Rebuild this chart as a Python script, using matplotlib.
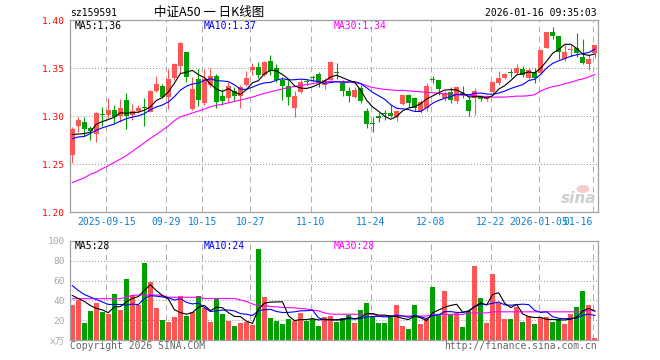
"""中证A50 日K线图 — candlestick + MA5/10/30, volume panel below."""
import numpy as np
import matplotlib
matplotlib.use("Agg")
import matplotlib.pyplot as plt
from matplotlib.patches import Ellipse

plt.rcParams["font.family"] = ["DejaVu Sans Mono", "Noto Sans CJK SC"]
plt.rcParams["lines.scale_dashes"] = False

OPEN = [1.260, 1.290, 1.2938, 1.288, 1.282, 1.302, 1.301, 1.3066, 1.300, 1.317,
        1.301, 1.306, 1.310, 1.305, 1.326, 1.332, 1.3205, 1.340, 1.352, 1.3667,
        1.308, 1.339, 1.3135, 1.333, 1.342, 1.321, 1.319, 1.326, 1.3215, 1.333,
        1.3486, 1.351, 1.3434, 1.358, 1.350, 1.338, 1.3316, 1.309, 1.3257, 1.337,
        1.341, 1.344, 1.3326, 1.338, 1.3465, 1.3344, 1.3267, 1.3198, 1.329, 1.306,
        1.2927, 1.2997, 1.3025, 1.3038, 1.299, 1.3128, 1.322, 1.319, 1.306, 1.3083,
        1.3385, 1.338, 1.319, 1.325, 1.3156, 1.3243, 1.3167, 1.319, 1.321, 1.318,
        1.325, 1.3347, 1.3403, 1.3455, 1.3448, 1.349, 1.3403, 1.3458, 1.3455, 1.3715,
        1.3878, 1.3837, 1.3594, 1.3688, 1.3708, 1.3622, 1.3542, 1.3663]
HIGH = [1.289, 1.299, 1.299, 1.290, 1.305, 1.310, 1.319, 1.312, 1.318, 1.324,
        1.313, 1.312, 1.319, 1.327, 1.3417, 1.334, 1.349, 1.356, 1.377, 1.367,
        1.3406, 1.3493, 1.349, 1.350, 1.344, 1.328, 1.3354, 1.331, 1.333, 1.347,
        1.356, 1.357, 1.358, 1.364, 1.354, 1.341, 1.338, 1.3264, 1.338, 1.339,
        1.343, 1.3465, 1.3396, 1.3576, 1.356, 1.338, 1.331, 1.331, 1.3326, 1.309,
        1.299, 1.303, 1.3066, 1.312, 1.3066, 1.322, 1.323, 1.320, 1.317, 1.3344,
        1.3424, 1.338, 1.326, 1.330, 1.330, 1.332, 1.321, 1.3295, 1.3215, 1.3226,
        1.337, 1.347, 1.345, 1.349, 1.355, 1.3524, 1.3507, 1.3507, 1.3698, 1.3882,
        1.3927, 1.3837, 1.3743, 1.3743, 1.3872, 1.381, 1.3638, 1.3743]
LOW = [1.251, 1.284, 1.279, 1.275, 1.273, 1.290, 1.298, 1.293, 1.294, 1.287,
       1.296, 1.303, 1.290, 1.304, 1.325, 1.319, 1.3076, 1.338, 1.345, 1.3354,
       1.307, 1.311, 1.312, 1.331, 1.309, 1.312, 1.315, 1.316, 1.309, 1.332,
       1.3434, 1.340, 1.342, 1.3434, 1.336, 1.317, 1.312, 1.2997, 1.324, 1.3326,
       1.336, 1.330, 1.328, 1.336, 1.3385, 1.321, 1.315, 1.319, 1.3135, 1.2875,
       1.284, 1.294, 1.296, 1.299, 1.2955, 1.3118, 1.3094, 1.306, 1.303, 1.306,
       1.3347, 1.3226, 1.3163, 1.314, 1.314, 1.319, 1.300, 1.3017, 1.316, 1.3163,
       1.324, 1.333, 1.3385, 1.3413, 1.3438, 1.3413, 1.3385, 1.3344, 1.344, 1.371,
       1.381, 1.3594, 1.358, 1.3615, 1.362, 1.3545, 1.348, 1.3604]
CLOSE = [1.287, 1.2965, 1.2868, 1.285, 1.303, 1.301, 1.307, 1.299, 1.3087, 1.300,
         1.305, 1.309, 1.309, 1.326, 1.3337, 1.3197, 1.339, 1.354, 1.376, 1.3413,
         1.3285, 1.317, 1.339, 1.342, 1.315, 1.316, 1.332, 1.321, 1.330, 1.340,
         1.3514, 1.3434, 1.357, 1.347, 1.338, 1.3316, 1.3205, 1.3215, 1.336, 1.3355,
         1.340, 1.3344, 1.3378, 1.357, 1.345, 1.3267, 1.3215, 1.3274, 1.3163, 1.292,
         1.2917, 1.2987, 1.302, 1.300, 1.306, 1.322, 1.3135, 1.3083, 1.3153, 1.3316,
         1.3375, 1.328, 1.3243, 1.3174, 1.330, 1.3226, 1.306, 1.326, 1.3184, 1.3215,
         1.3358, 1.340, 1.3438, 1.345, 1.3507, 1.343, 1.3483, 1.3396, 1.369, 1.388,
         1.384, 1.3667, 1.3667, 1.370, 1.3656, 1.3552, 1.3594, 1.3743]

MA5 = [1.2810, 1.2815, 1.2820, 1.2835, 1.2917, 1.2945, 1.2966, 1.2990, 1.3037, 1.3031,
       1.3039, 1.3043, 1.3063, 1.3098, 1.3165, 1.3195, 1.3255, 1.3345, 1.3445, 1.3460,
       1.3478, 1.3434, 1.3404, 1.3336, 1.3283, 1.3258, 1.3288, 1.3252, 1.3228, 1.3278,
       1.3349, 1.3372, 1.3444, 1.3478, 1.3474, 1.3434, 1.3388, 1.3317, 1.3295, 1.3290,
       1.3307, 1.3335, 1.3367, 1.3409, 1.3428, 1.3402, 1.3376, 1.3355, 1.3274, 1.3168,
       1.3098, 1.3052, 1.3001, 1.2969, 1.2997, 1.3057, 1.3087, 1.3100, 1.3130, 1.3181,
       1.3212, 1.3245, 1.3273, 1.3278, 1.3274, 1.3245, 1.3201, 1.3204, 1.3206, 1.3189,
       1.3215, 1.3283, 1.3319, 1.3372, 1.3431, 1.3445, 1.3462, 1.3453, 1.3501, 1.3576,
       1.3658, 1.3695, 1.3749, 1.3751, 1.3706, 1.3648, 1.3634, 1.3649]
MA10 = [1.2766, 1.2785, 1.2790, 1.2820, 1.2855, 1.2880, 1.2900, 1.2920, 1.2950, 1.2974,
        1.2992, 1.3005, 1.3027, 1.3068, 1.3098, 1.3117, 1.3149, 1.3204, 1.3272, 1.3313,
        1.3337, 1.3345, 1.3375, 1.3391, 1.3372, 1.3368, 1.3361, 1.3328, 1.3282, 1.3281,
        1.3304, 1.3330, 1.3348, 1.3353, 1.3376, 1.3392, 1.3380, 1.3381, 1.3387, 1.3382,
        1.3371, 1.3362, 1.3342, 1.3352, 1.3359, 1.3355, 1.3356, 1.3361, 1.3342, 1.3298,
        1.3250, 1.3214, 1.3178, 1.3122, 1.3083, 1.3078, 1.3070, 1.3051, 1.3050, 1.3089,
        1.3135, 1.3166, 1.3187, 1.3204, 1.3228, 1.3229, 1.3223, 1.3239, 1.3242, 1.3232,
        1.3230, 1.3242, 1.3262, 1.3289, 1.3310, 1.3330, 1.3373, 1.3386, 1.3437, 1.3504,
        1.3552, 1.3579, 1.3601, 1.3626, 1.3641, 1.3653, 1.3665, 1.3699]
MA30 = [1.2309, 1.2335, 1.2360, 1.2395, 1.2420, 1.2455, 1.2485, 1.2520, 1.2555, 1.2590,
        1.2635, 1.2680, 1.2725, 1.2770, 1.2810, 1.2855, 1.2900, 1.2955, 1.2995, 1.3015,
        1.3035, 1.3055, 1.3075, 1.3100, 1.3115, 1.3125, 1.3140, 1.3155, 1.3170, 1.3185,
        1.3200, 1.3220, 1.3240, 1.3255, 1.3270, 1.3285, 1.3300, 1.3310, 1.3320, 1.3330,
        1.3340, 1.3350, 1.3360, 1.3363, 1.3363, 1.3362, 1.3360, 1.3350, 1.3340, 1.3320,
        1.3300, 1.3290, 1.3280, 1.3275, 1.3270, 1.3270, 1.3265, 1.3260, 1.3255, 1.3250,
        1.3245, 1.3240, 1.3235, 1.3230, 1.3225, 1.3220, 1.3220, 1.3215, 1.3210, 1.3205,
        1.3200, 1.3200, 1.3200, 1.3205, 1.3210, 1.3210, 1.3215, 1.3225, 1.3265, 1.3290,
        1.3310, 1.3320, 1.3340, 1.3355, 1.3375, 1.3390, 1.3410, 1.3435]

VOL = [35.5, 40.5, 17.4, 29.4, 37.1, 28.4, 26.4, 46.5, 30.4, 61.5,
       45.5, 35.5, 77.6, 58.9, 32.4, 20.4, 18.4, 23.4, 44.5, 24.4,
       28.8, 44.5, 32.8, 18.4, 41.5, 26.4, 19.4, 14.4, 17.4, 18.4,
       15.4, 91.6, 43.5, 22.4, 19.4, 16.4, 21.4, 19.4, 27.4, 19.4,
       21.4, 14.4, 23.4, 24.4, 18.4, 22.4, 25.4, 17.4, 30.4, 37.5,
       23.7, 17.4, 17.4, 25.4, 35.5, 14.4, 11.4, 35.5, 16.4, 21.4,
       53.5, 25.4, 49.5, 25.4, 27.4, 13.4, 29.4, 74.6, 42.5, 17.4,
       66.6, 37.5, 21.4, 21.4, 33.4, 18.4, 24.4, 16.4, 22.4, 23.4,
       18.4, 21.4, 16.4, 26.4, 33.4, 49.5, 35.5, 2.3]
VMA5 = [45.0, 42.0, 39.0, 35.0, 32.0, 30.6, 27.7, 33.6, 33.8, 38.6,
        42.1, 43.9, 50.1, 55.8, 50.0, 45.0, 41.5, 30.7, 27.8, 26.2,
        27.9, 33.1, 35.0, 29.8, 33.2, 32.7, 27.7, 24.0, 23.8, 19.2,
        17.0, 31.4, 37.3, 38.3, 38.5, 38.7, 24.6, 19.8, 20.8, 20.8,
        21.8, 20.4, 21.2, 20.6, 20.4, 20.6, 22.8, 21.6, 22.8, 26.6,
        26.9, 25.3, 25.3, 24.3, 23.9, 22.0, 20.8, 24.4, 22.6, 19.8,
        27.6, 30.4, 33.2, 35.0, 36.2, 28.2, 29.0, 34.0, 37.5, 35.5,
        46.1, 47.7, 37.1, 32.9, 36.1, 26.4, 23.8, 22.8, 23.0, 21.0,
        21.0, 20.4, 20.4, 21.2, 23.2, 29.4, 32.2, 29.4]
VMA10 = [55.0, 50.0, 46.0, 43.5, 41.0, 38.5, 36.0, 36.0, 36.0, 35.3,
         36.4, 35.8, 41.9, 44.8, 44.3, 43.6, 42.7, 40.4, 41.8, 38.1,
         36.5, 37.3, 32.9, 28.8, 29.7, 30.3, 30.4, 29.5, 26.8, 26.2,
         24.9, 29.6, 30.7, 31.1, 28.9, 27.9, 28.0, 28.6, 29.6, 29.7,
         30.3, 22.5, 20.5, 20.7, 20.6, 21.2, 21.6, 21.4, 21.7, 23.5,
         23.8, 24.1, 23.5, 23.6, 25.3, 24.5, 23.1, 24.9, 23.5, 21.9,
         24.8, 25.6, 28.8, 28.8, 28.0, 27.9, 29.7, 33.6, 36.3, 35.9,
         37.2, 38.4, 35.6, 35.2, 35.8, 36.3, 35.8, 30.0, 28.0, 28.6,
         23.7, 22.1, 21.6, 22.1, 22.1, 25.2, 26.3, 24.9]
VMA30 = [41.8, 41.8, 41.8, 41.8, 41.8, 41.8, 41.8, 41.8, 41.8, 43.5,
         45.0, 45.5, 45.5, 45.5, 45.5, 45.0, 43.2, 43.2, 43.2, 43.2,
         43.2, 43.2, 42.0, 42.0, 42.0, 42.0, 42.0, 42.0, 40.5, 39.0,
         36.5, 34.4, 34.8, 34.0, 33.5, 33.0, 32.8, 32.5, 32.0, 31.5,
         30.5, 29.5, 27.5, 26.4, 26.2, 26.2, 26.2, 26.2, 26.2, 26.2,
         26.2, 24.4, 24.4, 24.4, 24.4, 24.4, 24.4, 24.4, 24.4, 24.4,
         26.0, 26.0, 26.0, 26.0, 26.0, 26.0, 27.5, 27.5, 27.5, 27.5,
         28.6, 28.6, 28.6, 28.6, 28.6, 28.6, 28.6, 28.6, 28.6, 28.6,
         28.6, 28.6, 28.6, 28.6, 28.6, 28.6, 30.0, 29.5]

DATE_IDX = [6, 16, 22, 30, 40, 50, 60, 70, 78, 87]
DATE_LBL = ["2025-09-15", "09-29", "10-15", "10-27", "11-10", "11-24",
            "12-08", "12-22", "2026-01-05", "01-16"]
PRICE_TICKS = [1.20, 1.25, 1.30, 1.35, 1.40]
VOL_TICKS = [0, 20, 40, 60, 80, 100]
VOL_LBL = ["x万", "20", "40", "60", "80", "100"]

W, H = 660, 360
RED, GREEN = "#ff5555", "#00a000"
FRAME, GRID = "#a0a0a0", "#b0b0b0"


def fx(x):
    return x / W


def fy(y):
    return 1 - y / H


def frame(ax):
    for s in ax.spines.values():
        s.set_color(FRAME); s.set_linewidth(0.9)
    ax.set_xticks([])
    ax.tick_params(axis="y", length=0, pad=3.5)
    ax.set_xlim(-0.38, 87.45)
    for i in DATE_IDX:
        ax.axvline(i - 0.33, color=GRID, lw=0.75, dashes=(4.3, 2.9), zorder=0)


def main():
    fig = plt.figure(figsize=(6.6, 3.6), dpi=100)
    ax = fig.add_axes([fx(70), fy(212.3), fx(527.5), 192 / H])
    av = fig.add_axes([fx(70), fy(340.3), fx(527.5), 99.6 / H])
    x = np.arange(len(OPEN))
    o, h, l, c = map(np.asarray, (OPEN, HIGH, LOW, CLOSE))
    cols = np.where(c >= o, RED, GREEN)

    # --- price ---
    frame(ax)
    for yv in PRICE_TICKS[1:-1]:
        ax.axhline(yv, color="#999999", lw=0.75, dashes=(0.75, 1.45), zorder=0)
    ax.vlines(x, l, h, colors=cols, lw=0.8, zorder=2)
    ax.bar(x, np.maximum(np.abs(c - o), 0.0011), bottom=np.minimum(o, c),
           width=0.82, color=cols, lw=0, zorder=3)
    ax.plot(x, MA30, color="#ff00ff", lw=0.8, zorder=4)
    ax.plot(x, MA10, color="#0000ff", lw=0.8, zorder=4)
    ax.plot(x, MA5, color="black", lw=0.8, zorder=4)
    ax.set_ylim(1.20, 1.40)
    ax.set_yticks(PRICE_TICKS)
    ax.set_yticklabels([f"{v:.2f}" for v in PRICE_TICKS], color="red", fontsize=6.8)
    tr = ax.get_xaxis_transform()
    for i, (k, t) in enumerate(zip(DATE_IDX, DATE_LBL)):
        last = i == len(DATE_IDX) - 1
        ax.text(k - 0.33, -9.7 / 192, t, transform=tr, ha="right" if last else "center",
                va="center", fontsize=7, color="#0a7fd6")

    # --- volume ---
    frame(av)
    for yv in VOL_TICKS[1:-1]:
        av.axhline(yv, color="#999999", lw=0.75, dashes=(0.75, 1.45), zorder=0)
    av.bar(x, VOL, width=0.82, color=cols, lw=0, zorder=2)
    av.plot(x, VMA30, color="#ff00ff", lw=0.8, zorder=4)
    av.plot(x, VMA10, color="#0000ff", lw=0.8, zorder=4)
    av.plot(x, VMA5, color="black", lw=0.8, zorder=4)
    av.set_ylim(0, 100)
    av.set_yticks(VOL_TICKS)
    av.set_yticklabels(VOL_LBL, color="#a8a8a8", fontsize=6.8)

    # --- header / labels ---
    fig.text(fx(70), fy(13), "sz159591", fontsize=7, va="center")
    fig.text(fx(209), fy(12), "中证A50 一 日K线图", fontsize=9, ha="center", va="center",
             family=["Noto Sans CJK SC", "DejaVu Sans"])
    fig.text(fx(597), fy(13), "2026-01-16 09:35:03", fontsize=7, ha="right", va="center")
    for yy, labs in ((26, ("MA5:1.36", "MA10:1.37", "MA30:1.34")), (246, ("MA5:28", "MA10:24", "MA30:28"))):
        for xx, t, col in zip((75, 204, 334), labs, ("black", "#0000ff", "#ff00ff")):
            fig.text(fx(xx), fy(yy), t, fontsize=7, color=col, va="center")
    fig.text(fx(70), fy(346), "Copyright 2026 SINA.COM", fontsize=7, color="#666666", va="center")
    fig.text(fx(597), fy(346), "http://finance.sina.com.cn", fontsize=7, color="#666666",
             ha="right", va="center")

    # sina watermark
    fig.patches.append(Ellipse((fx(583), fy(189)), 13 / W, 8 / H, transform=fig.transFigure,
                               facecolor="#f4c0c0", edgecolor="none", alpha=0.8))
    fig.text(fx(596), fy(198), "sina", fontsize=11, color="#cfcfcf", ha="right", va="center",
             style="italic", weight="bold", family="DejaVu Sans")

    fig.savefig("out.png", dpi=100, facecolor="white")
    plt.close(fig)


if __name__ == "__main__":
    main()
